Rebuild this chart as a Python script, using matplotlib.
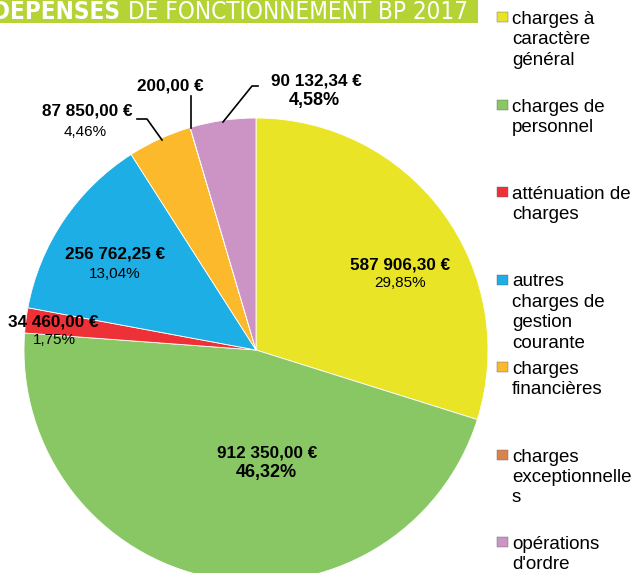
import matplotlib.pyplot as plt
from matplotlib.patches import Rectangle
import numpy as np

# données BP 2017 - dépenses de fonctionnement
categories = ['charges à\ncaractère\ngénéral', 'charges de\npersonnel', 'atténuation de\ncharges',
              'autres\ncharges de\ngestion\ncourante', 'charges\nfinancières',
              'charges\nexceptionnelle\ns', "opérations\nd'ordre"]
montants = [587906.30, 912350.00, 34460.00, 256762.25, 87850.00, 200.00, 90132.34]
labels_eur = ['587 906,30 €', '912 350,00 €', '34 460,00 €', '256 762,25 €', '87 850,00 €', '200,00 €', '90 132,34 €']
labels_pct = ['29,85%', '46,32%', '1,75%', '13,04%', '4,46%', '', '4,58%']
colors = ['#e9e526', '#89c764', '#ee3136', '#1caee4', '#fbb92b', '#d9834a', '#cc94c4']

W, H = 638, 573
fig = plt.figure(figsize=(W / 100, H / 100), dpi=100)
ax = fig.add_axes([0, 0, 1, 1])

def Y(y):
    return H - y

# camembert
cx, cy, r = 256, 350, 232
ax.pie(montants, colors=colors, startangle=90, counterclock=False, radius=r,
       center=(cx, Y(cy)), frame=True,
       wedgeprops=dict(linewidth=0.6, edgecolor='white'))
ax.set_xlim(0, W)
ax.set_ylim(0, H)
ax.axis('off')

fam = ['Liberation Sans', 'DejaVu Sans']
lbl = dict(fontsize=12.3, fontweight='bold', ha='center', va='center', family=fam)
pct = dict(fontsize=11, ha='center', va='center', family=fam)
pct_b = dict(fontsize=13, fontweight='bold', ha='center', va='center', family=fam)

# étiquettes intérieures
ax.text(400, Y(265), labels_eur[0], **lbl)
ax.text(400, Y(283), labels_pct[0], **pct)
ax.text(267, Y(453), labels_eur[1], **lbl)
ax.text(266, Y(472), labels_pct[1], **pct_b)
ax.text(53, Y(322), labels_eur[2], **lbl)
ax.text(54, Y(340), labels_pct[2], **pct)
ax.text(115, Y(254), labels_eur[3], **lbl)
ax.text(115, Y(274), labels_pct[3], **pct)

# étiquettes extérieures avec traits
ax.text(87, Y(111), labels_eur[4], **lbl)
ax.text(85, Y(132), labels_pct[4], **pct)
ax.plot([137, 147, 162], [Y(119), Y(119), Y(140)], color='black', lw=1.2)

ax.text(170, Y(86), labels_eur[5], **lbl)
ax.plot([191, 191], [Y(96), Y(128)], color='black', lw=1.2)

ax.text(316, Y(81), labels_eur[6], **lbl)
ax.text(314, Y(101), labels_pct[6], **pct_b)
ax.plot([258, 252, 223], [Y(86), Y(86), Y(122)], color='black', lw=1.2)

# bandeau titre (coupé en haut)
ax.add_patch(Rectangle((0, Y(23)), 478, 23, color='#b5d334', lw=0))
tfam = ['DejaVu Sans', 'Liberation Sans']
t1 = ax.text(120, Y(19), 'DÉPENSES', fontsize=20, fontweight='bold', color='white',
             ha='right', va='baseline', family=tfam, fontstretch='condensed')
t2 = ax.text(128, Y(19), 'DE FONCTIONNEMENT BP 2017', fontsize=20, color='white',
             ha='left', va='baseline', family=tfam, fontstretch='condensed')
# ajuster la taille du titre à la largeur du bandeau
fig.canvas.draw()
rend = fig.canvas.get_renderer()
w2 = t2.get_window_extent(rend).width
fs = 20 * 340 / w2
t1.set_fontsize(fs)
t2.set_fontsize(fs)

# légende
for i, (cat, col) in enumerate(zip(categories, colors)):
    y0 = 23 + i * 87.5
    ax.add_patch(Rectangle((497, Y(y0 - 1)), 11, 10, facecolor=col, edgecolor='#666666', lw=0.3))
    ax.text(512, Y(y0 - 12), cat, fontsize=13.5, ha='left', va='top', linespacing=1.26,
            family=fam)

fig.savefig('out.png', dpi=100)
